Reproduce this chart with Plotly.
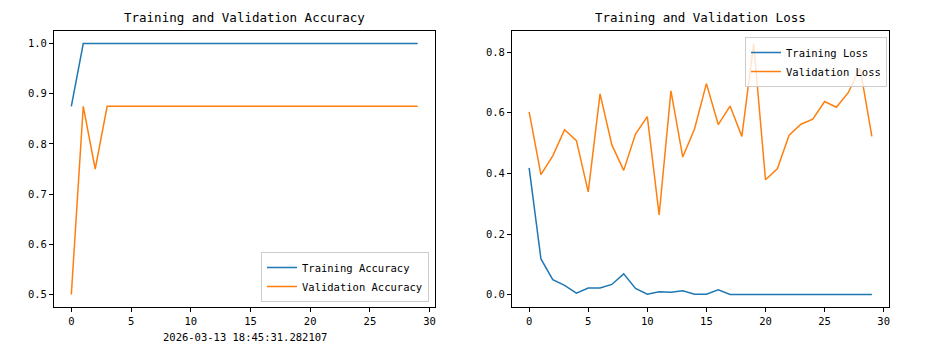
import plotly.graph_objects as go

epochs = list(range(30))
train_acc = [0.875] + [1.0] * 29
val_acc = [0.5, 0.875, 0.75] + [0.875] * 27
train_loss = [0.418, 0.118, 0.050, 0.031, 0.005, 0.022, 0.022, 0.034, 0.069, 0.021,
              0.002, 0.010, 0.008, 0.013, 0.002, 0.002, 0.016, 0.001, 0.001, 0.001,
              0.001, 0.001, 0.002, 0.001, 0.001, 0.001, 0.002, 0.001, 0.001, 0.001]
val_loss = [0.603, 0.396, 0.458, 0.544, 0.508, 0.339, 0.662, 0.494, 0.410, 0.530,
            0.587, 0.263, 0.672, 0.454, 0.547, 0.696, 0.561, 0.622, 0.522, 0.828,
            0.379, 0.415, 0.526, 0.562, 0.579, 0.637, 0.618, 0.666, 0.748, 0.522]
x_ticks = [0, 5, 10, 15, 20, 25, 30]
acc_ticks = [0.5, 0.6, 0.7, 0.8, 0.9, 1.0]
loss_ticks = [0.0, 0.2, 0.4, 0.6, 0.8]
timestamp = "2026-03-13 18:45:31.282107"

BLUE = "#1f77b4"
ORANGE = "#ff7f0e"
FONT = "DejaVu Sans Mono"

fig = go.Figure()
fig.add_trace(go.Scatter(x=epochs, y=train_acc, mode="lines", name="Training Accuracy",
                         line=dict(color=BLUE, width=1.5), xaxis="x", yaxis="y", legend="legend"))
fig.add_trace(go.Scatter(x=epochs, y=val_acc, mode="lines", name="Validation Accuracy",
                         line=dict(color=ORANGE, width=1.5), xaxis="x", yaxis="y", legend="legend"))
fig.add_trace(go.Scatter(x=epochs, y=train_loss, mode="lines", name="Training Loss",
                         line=dict(color=BLUE, width=1.5), xaxis="x2", yaxis="y2", legend="legend2"))
fig.add_trace(go.Scatter(x=epochs, y=val_loss, mode="lines", name="Validation Loss",
                         line=dict(color=ORANGE, width=1.5), xaxis="x2", yaxis="y2", legend="legend2"))

W, H = 950, 356
OFF = 8  # page body margin offset


def px(v):
    return (v - OFF) / W


def py(v):
    return 1 - (v - OFF) / H


dom_y = [py(307), py(31)]
axis_common = dict(showline=True, mirror=True, linecolor="black", linewidth=1,
                   ticks="outside", ticklen=4, tickcolor="black", showgrid=False,
                   zeroline=False, tickfont=dict(family=FONT, size=10.5, color="black"))

lmin, lmax = min(min(train_loss), min(val_loss)), max(max(train_loss), max(val_loss))
lpad = (lmax - lmin) * 0.05

fig.update_layout(
    width=W, height=H,
    margin=dict(l=0, r=0, t=0, b=0),
    plot_bgcolor="white", paper_bgcolor="white",
    font=dict(family=FONT, color="black"),
    xaxis=dict(domain=[px(54), px(435)], range=[-1.45, 30.45], tickvals=x_ticks,
               anchor="y", **axis_common),
    yaxis=dict(domain=dom_y, range=[0.475, 1.025], tickvals=acc_ticks, tickformat=".1f",
               anchor="x", **axis_common),
    xaxis2=dict(domain=[px(512), px(889)], range=[-1.45, 30.45], tickvals=x_ticks,
                anchor="y2", **axis_common),
    yaxis2=dict(domain=dom_y, range=[lmin - lpad, lmax + lpad], tickvals=loss_ticks,
                tickformat=".1f", anchor="x2", **axis_common),
    legend=dict(x=px(429), y=py(302), xanchor="right", yanchor="bottom",
                bgcolor="rgba(255,255,255,0.8)", bordercolor="#cccccc", borderwidth=1,
                font=dict(family=FONT, size=10.5, color="black"), itemwidth=30,
                tracegroupgap=0),
    legend2=dict(x=px(887), y=py(37), xanchor="right", yanchor="top",
                 bgcolor="rgba(255,255,255,0.8)", bordercolor="#cccccc", borderwidth=1,
                 font=dict(family=FONT, size=10.5, color="black"), itemwidth=30,
                 tracegroupgap=0),
    annotations=[
        dict(text="Training and Validation Accuracy", x=px(244.5), y=py(18),
             xref="paper", yref="paper", showarrow=False, xanchor="center", yanchor="middle",
             font=dict(family=FONT, size=12.5, color="black")),
        dict(text="Training and Validation Loss", x=px(700), y=py(18),
             xref="paper", yref="paper", showarrow=False, xanchor="center", yanchor="middle",
             font=dict(family=FONT, size=12.5, color="black")),
        dict(text=timestamp, x=px(244.5), y=py(337),
             xref="paper", yref="paper", showarrow=False, xanchor="center", yanchor="middle",
             font=dict(family=FONT, size=10.5, color="black")),
    ],
)

fig.write_html("out.html")
